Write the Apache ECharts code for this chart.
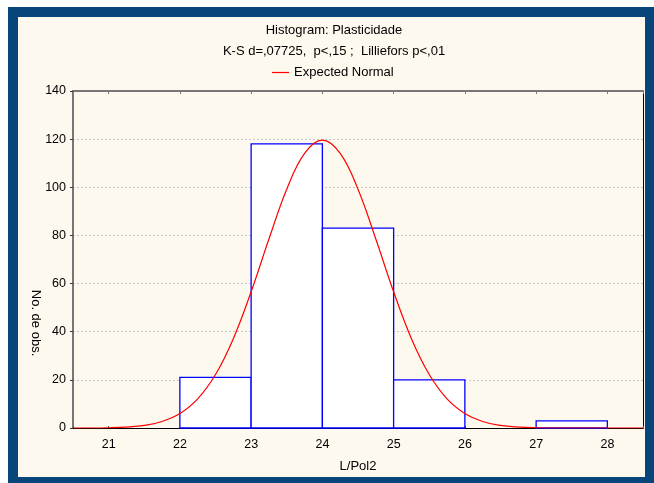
<!DOCTYPE html>
<html><head><meta charset="utf-8">
<script src="https://cdn.jsdelivr.net/npm/echarts@6/dist/echarts.min.js"></script>
<style>
html,body{margin:0;padding:0;background:#fff;overflow:hidden}
#frame{position:absolute;left:8px;top:7px;width:627px;height:460px;border:10px solid #07457A;background:#FEF9EE}
#c{position:absolute;left:0;top:0;width:654px;height:483px}
</style>
</head><body><div id="frame"></div><div id="c"></div>
<script>
const titleText = 'Histogram: Plasticidade';
const subtitleText = 'K-S d=,07725,  p<,15 ;  Lilliefors p<,01';
const legendName = 'Expected Normal';
const xName = 'L/Pol2';
const yName = 'No. de obs.';

// histogram bins
const binStart = [21, 22, 23, 24, 25, 26, 27];
const binEnd   = [22, 23, 24, 25, 26, 27, 28];
const counts   = [0, 21, 118, 83, 20, 0, 3];

// expected normal curve
const curveX = [20.5, 20.75, 21, 21.25, 21.5, 21.75, 22, 22.25, 22.5, 22.75, 23, 23.25, 23.5, 23.75, 24,
                24.25, 24.5, 24.75, 25, 25.25, 25.5, 25.75, 26, 26.25, 26.5, 26.75, 27, 27.25, 27.5, 27.75, 28, 28.25, 28.5];
const curveY = [0, 0, 0.1, 0.4, 1.1, 2.7, 6.0, 12.1, 22.2, 37.1, 56.6, 78.5, 99.2, 114.1, 119.6,
                114.1, 99.2, 78.5, 56.6, 37.1, 22.2, 12.1, 6.0, 2.7, 1.1, 0.4, 0.1, 0, 0, 0, 0, 0, 0];

const FF = '"Liberation Sans", Arial, sans-serif';
const txt = {fontSize: 13, color: '#000', fontFamily: FF, fontWeight: 'normal'};
const tick = {fontSize: 12.5, color: '#000', fontFamily: FF};

const chart = echarts.init(document.getElementById('c'), null, {renderer: 'canvas'});

const barData = binStart.map((s, i) => [s, binEnd[i], counts[i]]);
const curveData = curveX.map((x, i) => [x, curveY[i]]);

chart.setOption({
  backgroundColor: 'transparent',
  animation: false,
  legend: {
    data: [legendName], left: 272, top: 66, padding: 0,
    icon: 'rect', itemWidth: 17, itemHeight: 1.2, itemGap: 4,
    textStyle: txt
  },
  grid: {left: 73, right: 11, top: 91, bottom: 55, containLabel: false},
  xAxis: [
    {
      type: 'value', min: 20.5, max: 28.5, minInterval: 1, maxInterval: 1, splitNumber: 8,
      position: 'bottom',
      name: xName, nameLocation: 'middle', nameGap: 32, nameTextStyle: txt,
      axisLine: {show: true, onZero: false, lineStyle: {color: '#000', width: 1}},
      axisTick: {show: true, inside: true, length: 2, lineStyle: {color: '#555'}},
      axisLabel: Object.assign({margin: 10,
        formatter: v => Number.isInteger(v) ? String(v) : ''}, tick),
      splitLine: {show: false}
    },
    {
      type: 'value', min: 20.5, max: 28.5, minInterval: 1, maxInterval: 1, splitNumber: 8,
      position: 'top',
      axisLine: {show: true, onZero: false, lineStyle: {color: '#777', width: 2}},
      axisTick: {show: true, inside: true, length: 3, lineStyle: {color: '#777'}},
      axisLabel: {show: false},
      splitLine: {show: false}
    }
  ],
  yAxis: [
    {
      type: 'value', min: 0, max: 140, interval: 20, position: 'left',
      axisLine: {show: true, onZero: false, lineStyle: {color: '#777', width: 2}},
      axisTick: {show: true, inside: false, length: 3, lineStyle: {color: '#333'}},
      axisLabel: Object.assign({margin: 7}, tick),
      splitLine: {show: true, lineStyle: {color: '#c8c8c8', type: [2, 2], width: 1}}
    },
    {
      type: 'value', min: 0, max: 140, interval: 20, position: 'right',
      axisLine: {show: true, onZero: false, lineStyle: {color: '#000', width: 1}},
      axisTick: {show: false},
      axisLabel: {show: false},
      splitLine: {show: false}
    }
  ],
  graphic: [
    {type: 'text', x: 334, y: 30,
     style: {text: titleText, fill: '#000', font: '13px ' + FF, textAlign: 'center', textVerticalAlign: 'middle'}},
    {type: 'text', x: 334, y: 51,
     style: {text: subtitleText, fill: '#000', font: '13px ' + FF, textAlign: 'center', textVerticalAlign: 'middle'}},
    {type: 'text', x: 36, y: 323, rotation: -Math.PI / 2,
     style: {text: yName, fill: '#000', font: '13px ' + FF, textAlign: 'center', textVerticalAlign: 'middle'}}
  ],
  series: [
    {
      type: 'custom', name: 'Histogram', xAxisIndex: 0, yAxisIndex: 0,
      data: barData, z: 3,
      renderItem: function (params, api) {
        const x0 = api.value(0), x1 = api.value(1), h = api.value(2);
        if (h <= 0) return null;
        const p0 = api.coord([x0, h]);
        const p1 = api.coord([x1, 0]);
        return {
          type: 'rect',
          shape: {x: p0[0], y: p0[1], width: p1[0] - p0[0], height: p1[1] - p0[1]},
          style: {fill: '#fff', stroke: '#0000FF', lineWidth: 1.3}
        };
      }
    },
    {
      type: 'line', name: legendName, xAxisIndex: 0, yAxisIndex: 0,
      data: curveData, smooth: 0.4, showSymbol: false, symbol: 'none', z: 5,
      lineStyle: {color: '#FF0000', width: 1.2},
      itemStyle: {color: '#FF0000'}
    }
  ]
});
</script>
</body></html>
